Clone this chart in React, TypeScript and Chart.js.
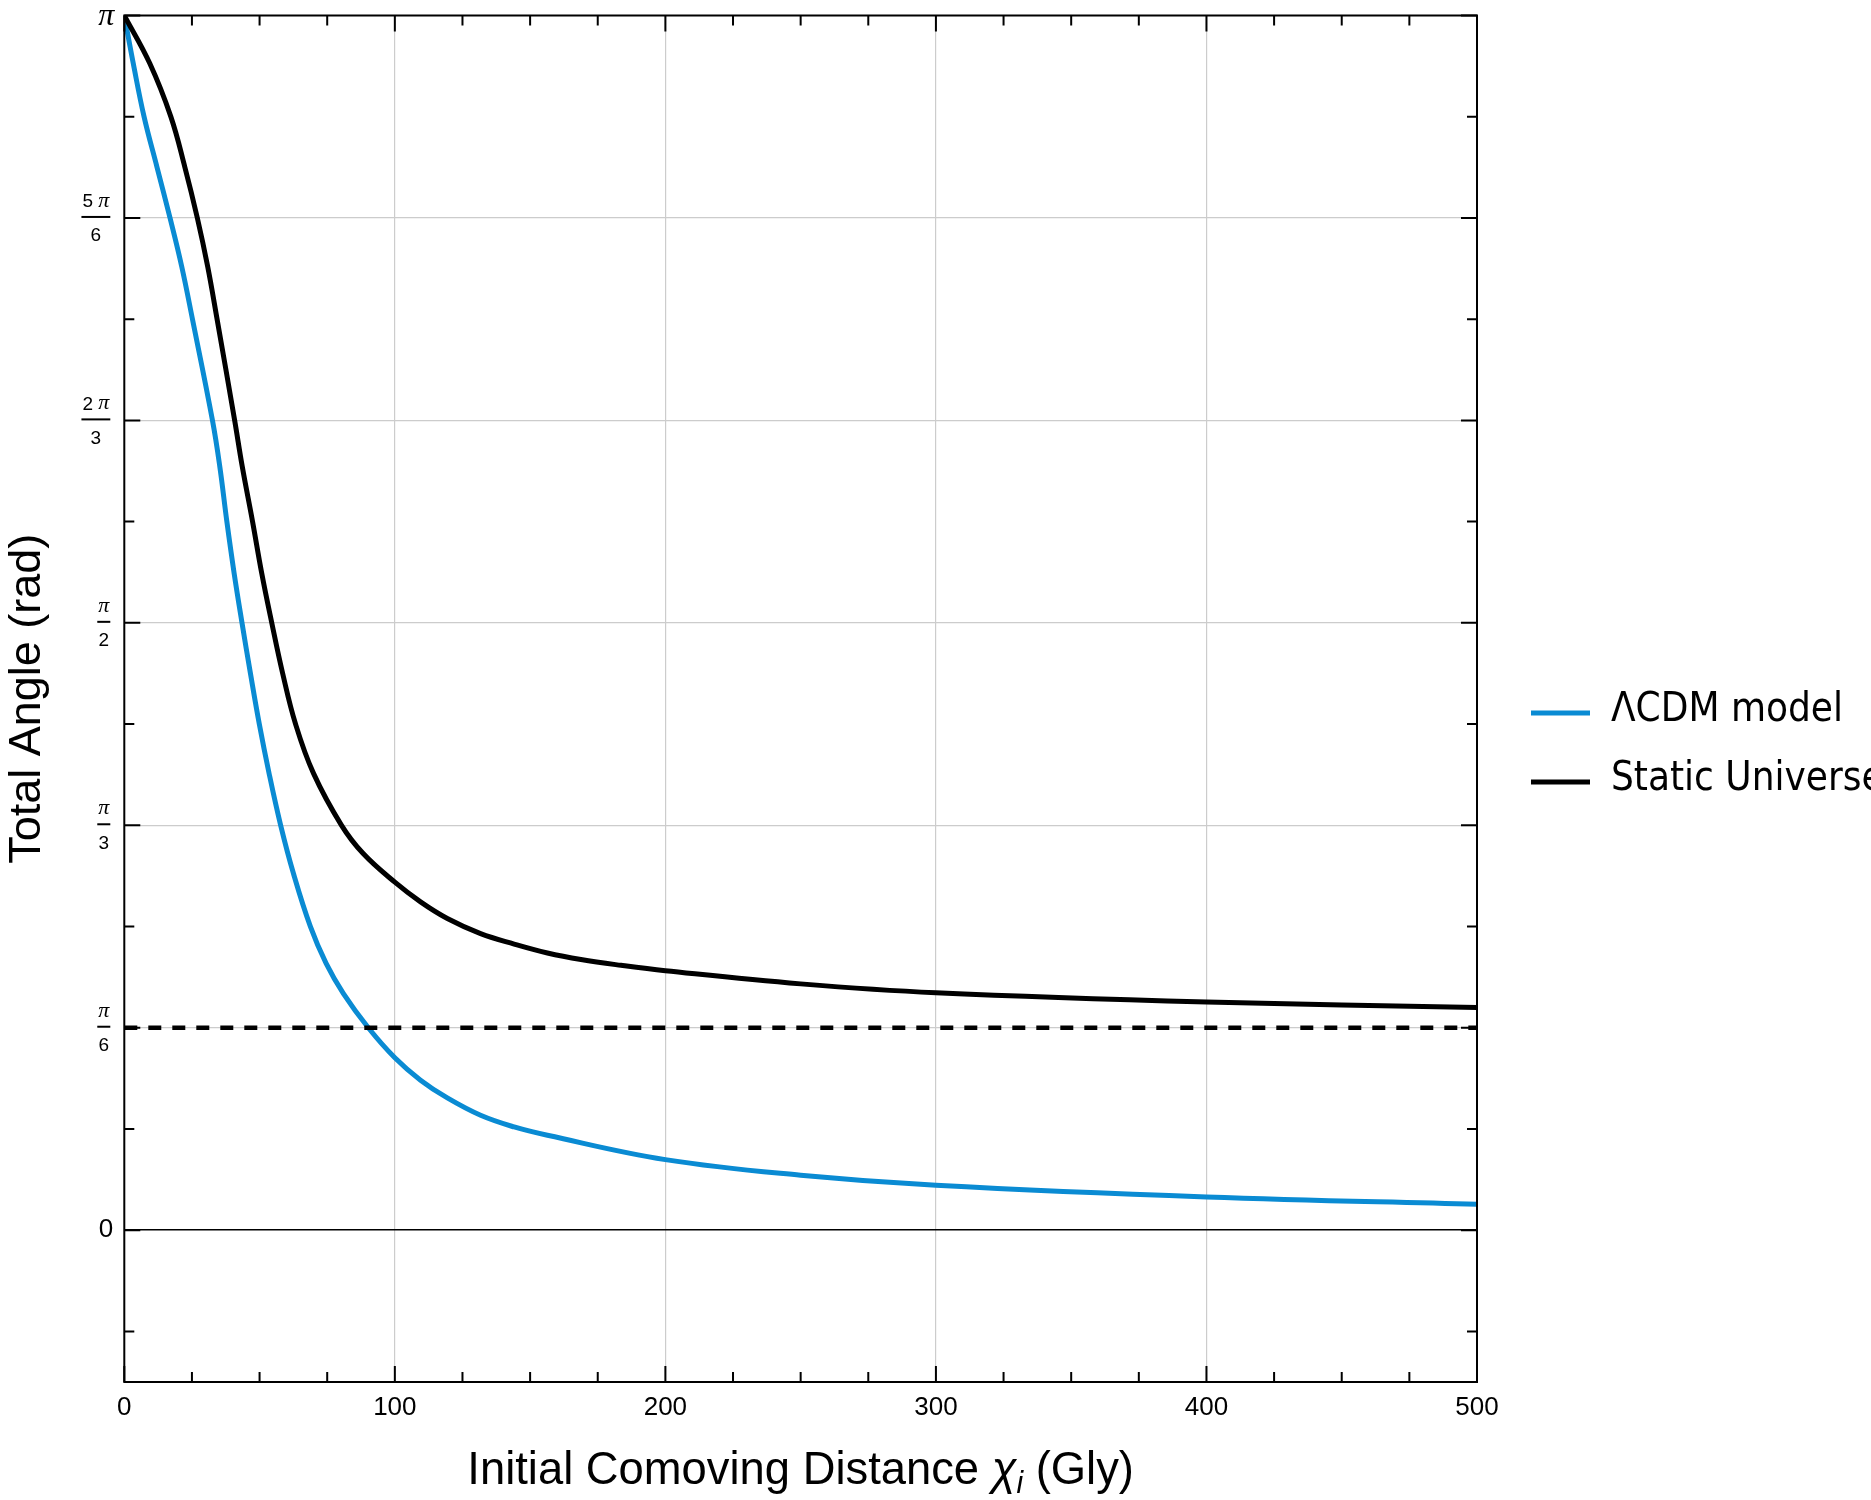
import { useEffect, useRef } from 'react'
import { Chart, registerables } from 'chart.js'

Chart.register(...registerables)

const PI = Math.PI

// ΛCDM model (Gly, rad)
const lcdmX = [0, 3.3, 7.3, 12.1, 16.9, 21.2, 25.2, 32.6, 35.3, 37.9, 40.6, 43.5, 46.6, 49.9, 53.5, 57.8, 62.5, 68.8, 74.6, 81.0, 90.2, 100, 109.5, 119.4, 131.7, 144.1, 156.4, 200, 250, 300, 400, 500]
const lcdmY = [3.1416, 3.018, 2.88, 2.749, 2.618, 2.493, 2.356, 2.094, 1.975, 1.833, 1.699, 1.571, 1.441, 1.309, 1.182, 1.047, 0.923, 0.785, 0.69, 0.612, 0.5236, 0.446, 0.388, 0.342, 0.2971, 0.2669, 0.2454, 0.1825, 0.142, 0.116, 0.0857, 0.0668]

// static universe
const staticX = [0, 9.4, 17.2, 22.4, 27.0, 30.8, 34.3, 40.8, 43.6, 47.4, 50.8, 54.5, 58.5, 63.3, 69.9, 80.3, 88.3, 100, 109.5, 119.4, 131.7, 144.1, 156.4, 168.8, 183.6, 200, 250, 300, 400, 500]
const staticY = [3.1416, 3.018, 2.88, 2.749, 2.618, 2.493, 2.356, 2.094, 1.975, 1.833, 1.699, 1.571, 1.441, 1.309, 1.182, 1.047, 0.974, 0.9, 0.849, 0.806, 0.767, 0.74, 0.717, 0.7, 0.685, 0.671, 0.637, 0.614, 0.59, 0.576]

// dashed reference at pi/6
const refX = [0, 500]
const refY = [PI / 6, PI / 6]

// y labels: multiples of pi/6
const yLabelSteps = [1, 2, 3, 4, 5]
const yLabelNums = ['', '', '', '2', '5']
const yLabelDens = ['6', '3', '2', '3', '6']

const BLUE = '#0a8bd3'
const SANS = "'Liberation Sans', Arial, sans-serif"
const LEGEND_FONT = "40px 'DejaVu Sans Condensed', 'DejaVu Sans', sans-serif"

const pts = (xs: number[], ys: number[]) => xs.map((x, i) => ({ x, y: ys[i] }))

const decorations = {
  id: 'decorations',
  afterDraw(chart: any) {
    const { ctx, chartArea: a, scales } = chart
    const x = scales.x
    const y = scales.y
    ctx.save()

    // frame + inward ticks
    ctx.strokeStyle = '#000'
    ctx.lineWidth = 2
    ctx.strokeRect(a.left, a.top, a.right - a.left, a.bottom - a.top)
    ctx.beginPath()
    x.ticks.forEach((t: any) => {
      const px = x.getPixelForValue(t.value)
      const len = t.value % 100 === 0 ? 16 : 10
      ctx.moveTo(px, a.bottom)
      ctx.lineTo(px, a.bottom - len)
      ctx.moveTo(px, a.top)
      ctx.lineTo(px, a.top + len)
    })
    y.ticks.forEach((t: any) => {
      const py = y.getPixelForValue(t.value)
      const k = Math.round(t.value / (PI / 12))
      const len = k % 2 === 0 ? 16 : 10
      ctx.moveTo(a.left, py)
      ctx.lineTo(a.left + len, py)
      ctx.moveTo(a.right, py)
      ctx.lineTo(a.right - len, py)
    })
    ctx.stroke()

    // y tick labels (fractions)
    ctx.fillStyle = '#000'
    ctx.textBaseline = 'middle'
    const right = a.left - 15
    const numFont = `19px ${SANS}`
    const piFont = "italic 22px 'Liberation Serif', serif"
    yLabelSteps.forEach((s, i) => {
      const py = y.getPixelForValue((s * PI) / 6)
      const digit = yLabelNums[i]
      ctx.font = numFont
      const dw = digit ? ctx.measureText(digit + ' ').width : 0
      ctx.font = piFont
      const pw = ctx.measureText('π').width
      const w = dw + pw
      const left = right - w
      ctx.textAlign = 'left'
      if (digit) {
        ctx.font = numFont
        ctx.fillText(digit, left, py - 16)
      }
      ctx.font = piFont
      ctx.fillText('π', left + dw, py - 17)
      ctx.fillRect(left - 1, py - 2, w + 2, 2)
      ctx.font = numFont
      ctx.textAlign = 'center'
      ctx.fillText(yLabelDens[i], left + w / 2, py + 18)
    })
    ctx.textAlign = 'right'
    ctx.font = `26px ${SANS}`
    ctx.fillText('0', a.left - 11, y.getPixelForValue(0))
    ctx.font = "italic 32px 'Liberation Serif', serif"
    ctx.fillText('π', a.left - 10, y.getPixelForValue(PI) + 1)

    // axis titles
    ctx.textAlign = 'center'
    ctx.textBaseline = 'alphabetic'
    ctx.font = `45px ${SANS}`
    ctx.save()
    ctx.translate(40, (a.top + a.bottom) / 2)
    ctx.rotate(-PI / 2)
    ctx.fillText('Total Angle (rad)', 0, 0)
    ctx.restore()

    const parts = [
      { t: 'Initial Comoving Distance ', f: `47px ${SANS}`, dy: 0 },
      { t: 'χ', f: `italic 47px ${SANS}`, dy: 0 },
      { t: 'i', f: `italic 31px ${SANS}`, dy: 9 },
      { t: ' (Gly)', f: `47px ${SANS}`, dy: 0 },
    ]
    const squeeze = 0.965
    let total = 0
    parts.forEach((p) => {
      ctx.font = p.f
      total += ctx.measureText(p.t).width
    })
    ctx.save()
    ctx.translate((a.left + a.right) / 2 - (total * squeeze) / 2, 1484)
    ctx.scale(squeeze, 1)
    ctx.textAlign = 'left'
    let cx = 0
    parts.forEach((p) => {
      ctx.font = p.f
      ctx.fillText(p.t, cx, p.dy)
      cx += ctx.measureText(p.t).width
    })
    ctx.restore()

    // legend
    ctx.font = LEGEND_FONT
    ctx.textBaseline = 'middle'
    ctx.textAlign = 'left'
    let row = 0
    chart.data.datasets.forEach((ds: any) => {
      if (!ds.label) return
      const ly = 713 + row * 69
      ctx.strokeStyle = ds.borderColor
      ctx.lineWidth = 5
      ctx.beginPath()
      ctx.moveTo(a.right + 54, ly)
      ctx.lineTo(a.right + 113, ly)
      ctx.stroke()
      ctx.fillStyle = '#000'
      ctx.fillText(ds.label, a.right + 134, ly - 2)
      row++
    })

    ctx.restore()
  },
}

export default function App() {
  const canvasRef = useRef<HTMLCanvasElement | null>(null)
  const chartRef = useRef<Chart | null>(null)

  useEffect(() => {
    const ctx = canvasRef.current?.getContext('2d')
    if (!ctx) return

    chartRef.current = new Chart(ctx, {
      type: 'line',
      data: {
        datasets: [
          {
            data: pts(refX, refY),
            borderColor: '#000',
            borderWidth: 4.5,
            borderDash: [13, 11],
            pointRadius: 0,
            order: 0,
          },
          {
            label: 'ΛCDM model',
            data: pts(lcdmX, lcdmY),
            borderColor: BLUE,
            borderWidth: 5,
            pointRadius: 0,
            tension: 0.4,
            order: 2,
          },
          {
            label: 'Static Universe',
            data: pts(staticX, staticY),
            borderColor: '#000',
            borderWidth: 5,
            pointRadius: 0,
            tension: 0.4,
            order: 1,
          },
        ],
      },
      options: {
        animation: false,
        responsive: false,
        devicePixelRatio: 1,
        layout: { padding: { left: 0, right: 394, top: 15.5, bottom: 0 } },
        plugins: { legend: { display: false }, tooltip: { enabled: false } },
        scales: {
          x: {
            type: 'linear',
            min: 0,
            max: 500,
            border: { display: false },
            grid: {
              drawTicks: false,
              lineWidth: 1.2,
              color: (c: any) =>
                c.tick && c.tick.value % 100 === 0 && c.tick.value > 0 && c.tick.value < 500 ? '#cccccc' : 'rgba(0,0,0,0)',
            },
            ticks: {
              stepSize: 25,
              autoSkip: false,
              maxRotation: 0,
              padding: 10,
              color: '#000',
              font: { family: SANS, size: 26 },
              callback: (v: any) => (Number(v) % 100 === 0 ? String(v) : ''),
            },
            afterFit: (s: any) => {
              s.height = 118
            },
          },
          y: {
            type: 'linear',
            min: -PI / 8,
            max: PI,
            border: { display: false },
            afterBuildTicks: (s: any) => {
              const t = []
              for (let k = -1; k <= 12; k++) t.push({ value: (k * PI) / 12 })
              s.ticks = t
            },
            grid: {
              drawTicks: false,
              lineWidth: (c: any) => {
                const k = c.tick ? Math.round(c.tick.value / (PI / 12)) : 1
                return k === 0 ? 1.4 : 1.2
              },
              color: (c: any) => {
                if (!c.tick) return 'rgba(0,0,0,0)'
                const k = Math.round(c.tick.value / (PI / 12))
                if (k === 0) return '#000'
                if (k % 2 === 0 && k > 0 && k < 12) return '#cccccc'
                return 'rgba(0,0,0,0)'
              },
            },
            ticks: { display: false },
            afterFit: (s: any) => {
              s.width = 124.3
            },
          },
        },
      },
      plugins: [decorations],
    })

    return () => chartRef.current?.destroy()
  }, [])

  return (
    <div style={{ position: 'absolute', left: 0, top: 0, width: 1871, height: 1500, background: '#fff' }}>
      <canvas ref={canvasRef} width={1871} height={1500} style={{ display: 'block' }} />
    </div>
  )
}
